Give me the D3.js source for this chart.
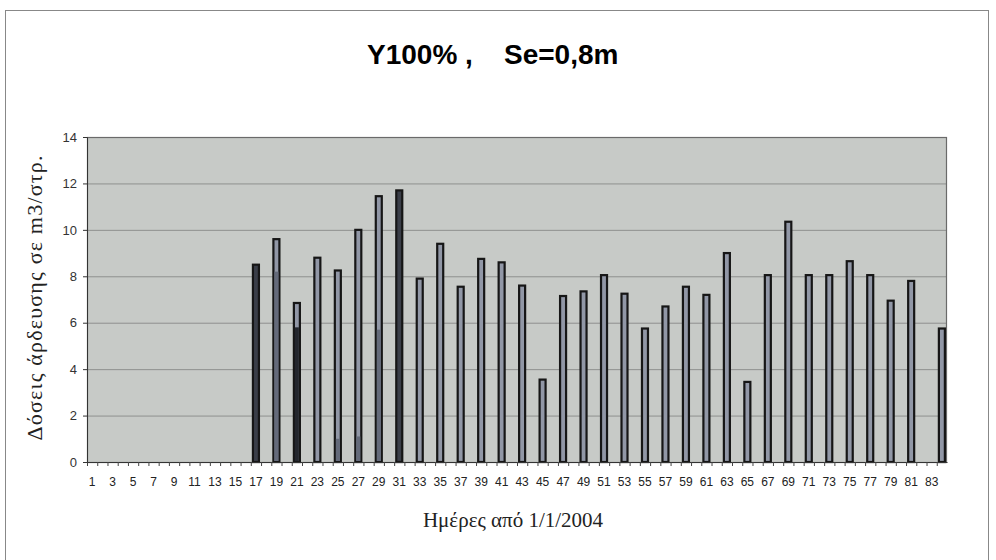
<!DOCTYPE html>
<html>
<head>
<meta charset="utf-8">
<script src="https://cdn.jsdelivr.net/npm/d3@7"></script>
<style>
  body { margin: 0; background: #fff; }
  svg { display: block; }
</style>
</head>
<body>
<div id="chart"></div>
<script>
// days 1..84 from 1/1/2004, only irrigation days carry a value
const days = d3.range(1, 85);
const irrigDays = [17, 19, 21, 23, 25, 27, 29, 31, 33, 35, 37, 39, 41, 43, 45, 47, 49, 51, 53, 55,
                   57, 59, 61, 63, 65, 67, 69, 71, 73, 75, 77, 79, 81, 84];
const doses = [8.5, 9.6, 6.85, 8.8, 8.25, 10.0, 11.45, 11.7, 7.9, 9.4, 7.55, 8.75, 8.6, 7.6, 3.55, 7.15, 7.35, 8.05, 7.25, 5.75,
               6.7, 7.55, 7.2, 9.0, 3.45, 8.05, 10.35, 8.05, 8.05, 8.65, 8.05, 6.95, 7.8, 5.75];
// lower shaded part of some bars
const lowerDays = [19, 21, 25, 27, 29];
const lowerVals = [8.2, 5.8, 1.0, 1.1, 5.7];
const yTicks = [0, 2, 4, 6, 8, 10, 12, 14];

const W = 996, H = 560;
const margin = { top: 137, right: 49, bottom: 98, left: 87 };
const width = W - margin.left - margin.right;
const height = H - margin.top - margin.bottom;

const svg = d3.select("#chart").append("svg")
    .attr("width", W).attr("height", H);

// outer frame
svg.append("rect")
    .attr("x", 5.5).attr("y", 10.5).attr("width", 983).attr("height", 560)
    .attr("fill", "none").attr("stroke", "#888").attr("stroke-width", 1);

const g = svg.append("g").attr("transform", `translate(${margin.left},${margin.top})`);

const x = d3.scaleBand().domain(days).range([0, width]).padding(0);
const y = d3.scaleLinear().domain([0, 14]).range([height, 0]);

g.append("rect")
    .attr("width", width).attr("height", height)
    .attr("fill", "#c7cac7");

// gridlines
g.selectAll(".grid")
    .data(yTicks.filter(d => d > 0 && d < 14))
    .join("line")
    .attr("x1", 0).attr("x2", width)
    .attr("y1", d => y(d) + 0.5).attr("y2", d => y(d) + 0.5)
    .attr("stroke", "#8e908e").attr("stroke-width", 1);

g.append("rect")
    .attr("x", 0.5).attr("y", 0.5).attr("width", width - 1).attr("height", height)
    .attr("fill", "none").attr("stroke", "#6a6a6a").attr("stroke-width", 1.2);

const barW = 6;
const bars = irrigDays.map((d, i) => ({ day: d, v: doses[i] }));
const lows = lowerDays.map((d, i) => ({ day: d, v: lowerVals[i] }));

g.selectAll(".bar")
    .data(bars)
    .join("rect")
    .attr("class", "bar")
    .attr("x", d => x(d.day) + x.bandwidth() / 2 - barW / 2)
    .attr("y", d => y(d.v))
    .attr("width", barW)
    .attr("height", d => y(0) - y(d.v))
    .attr("fill", d => (d.day === 17 || d.day === 31) ? "#3a3e48" : "#9197a6")
    .attr("stroke", "#161616")
    .attr("stroke-width", 2.2);

g.selectAll(".low")
    .data(lows)
    .join("rect")
    .attr("class", "low")
    .attr("x", d => x(d.day) + x.bandwidth() / 2 - barW / 2 + 1)
    .attr("y", d => y(d.v))
    .attr("width", barW - 2)
    .attr("height", d => y(0) - y(d.v) - 1)
    .attr("fill", d => d.day === 21 ? "#23262d" : "#646a7a");

// axes
const xAxis = d3.axisBottom(x)
    .tickValues(days.filter(d => d % 2 === 1))
    .tickSize(0).tickPadding(15);
const gx = g.append("g").attr("transform", `translate(0,${height})`).call(xAxis);
gx.select(".domain").attr("stroke", "#333");
gx.selectAll("text").attr("font-family", "Arial, 'Liberation Sans', sans-serif")
    .attr("font-size", 12).attr("fill", "#222");

// small tick marks at category boundaries
g.selectAll(".xt")
    .data(days)
    .join("line")
    .attr("x1", d => x(d) + 0.5).attr("x2", d => x(d) + 0.5)
    .attr("y1", height).attr("y2", height + 4)
    .attr("stroke", "#444");

const gy = g.append("g").call(d3.axisLeft(y).tickValues(yTicks).tickSize(4).tickPadding(6));
gy.select(".domain").attr("stroke", "#333");
gy.selectAll("line").attr("stroke", "#333");
gy.selectAll("text").attr("font-family", "Arial, 'Liberation Sans', sans-serif")
    .attr("font-size", 13).attr("fill", "#333");

// title
svg.append("text")
    .attr("x", 367).attr("y", 64)
    .attr("font-family", "Arial, 'Liberation Sans', sans-serif")
    .attr("font-weight", "bold").attr("font-size", 28)
    .attr("xml:space", "preserve")
    .text("Y100% ,    Se=0,8m");

svg.append("text")
    .attr("x", 513).attr("y", 527)
    .attr("text-anchor", "middle")
    .attr("font-family", "'Liberation Serif', 'Times New Roman', serif")
    .attr("font-size", 21).attr("fill", "#222")
    .text("Ημέρες από 1/1/2004");

svg.append("text")
    .attr("transform", "translate(42,298) rotate(-90)")
    .attr("text-anchor", "middle")
    .attr("font-family", "'Liberation Serif', 'Times New Roman', serif")
    .attr("font-size", 22).attr("fill", "#222")
    .attr("textLength", 285).attr("lengthAdjust", "spacing")
    .text("Δόσεις άρδευσης σε m3/στρ.");
</script>
</body>
</html>
